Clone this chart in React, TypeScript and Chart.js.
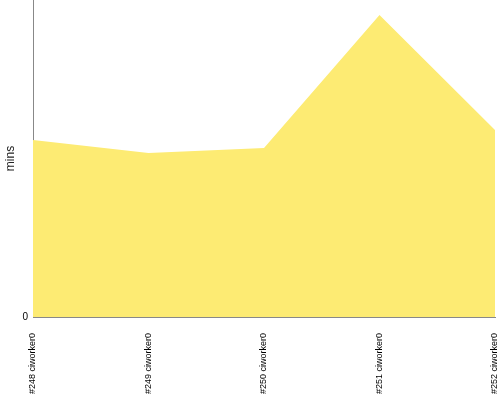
import React, { useEffect, useRef } from "react";
import { Chart, registerables } from "chart.js";

Chart.register(...registerables);

const categories = ["#248 ciworker0", "#249 ciworker0", "#250 ciworker0", "#251 ciworker0", "#252 ciworker0"];
const minsValues = [55.8, 51.7, 53.3, 95.3, 59.0];
const yTickLabels = ["0"];

export default function App() {
  const ref = useRef<HTMLCanvasElement | null>(null);
  useEffect(() => {
    if (!ref.current) return;
    const chart = new Chart(ref.current, {
      type: "line",
      data: {
        labels: categories,
        datasets: [
          {
            data: minsValues,
            fill: "origin",
            backgroundColor: "rgb(253,235,115)",
            borderColor: "rgb(253,235,115)",
            borderWidth: 0,
            pointRadius: 0,
            tension: 0,
          },
        ],
      },
      options: {
        animation: false,
        responsive: false,
        maintainAspectRatio: false,
        layout: { padding: { top: 0, right: 5, left: 0, bottom: 0 } },
        plugins: { legend: { display: false }, tooltip: { enabled: false } },
        scales: {
          x: {
            type: "category",
            offset: false,
            grid: { display: false, drawTicks: true, tickLength: 0 },
            border: { color: "#888", width: 1 },
            ticks: {
              minRotation: 90,
              maxRotation: 90,
              color: "#000",
              font: { family: "Liberation Sans, Arial", size: 9 },
              padding: 16,
            },
            afterFit: (axis: any) => {
              axis.height = 83;
              axis.paddingLeft = 0;
              axis.paddingRight = 0;
            },
          },
          y: {
            min: 0,
            max: 100,
            grid: { display: false, drawTicks: true, tickLength: 4 },
            border: { color: "#888", width: 1 },
            title: {
              display: true,
              text: "mins",
              color: "#222",
              font: { family: "Liberation Sans, Arial", size: 12 },
              padding: { top: 3, bottom: 4 },
            },
            afterBuildTicks: (axis: any) => {
              axis.ticks = yTickLabels.map((t) => ({ value: Number(t) }));
            },
            ticks: {
              color: "#000",
              font: { family: "Liberation Sans, Arial", size: 10 },
              padding: 1,
            },
            afterFit: (axis: any) => {
              axis.width = 33;
              axis.paddingTop = 0;
              axis.paddingBottom = 0;
            },
          },
        },
      },
    });
    return () => chart.destroy();
  }, []);
  return (
    <div style={{ position: "absolute", left: 0, top: 0, width: 500, height: 400 }}>
      <canvas ref={ref} width={500} height={400} style={{ width: 500, height: 400 }} />
    </div>
  );
}
